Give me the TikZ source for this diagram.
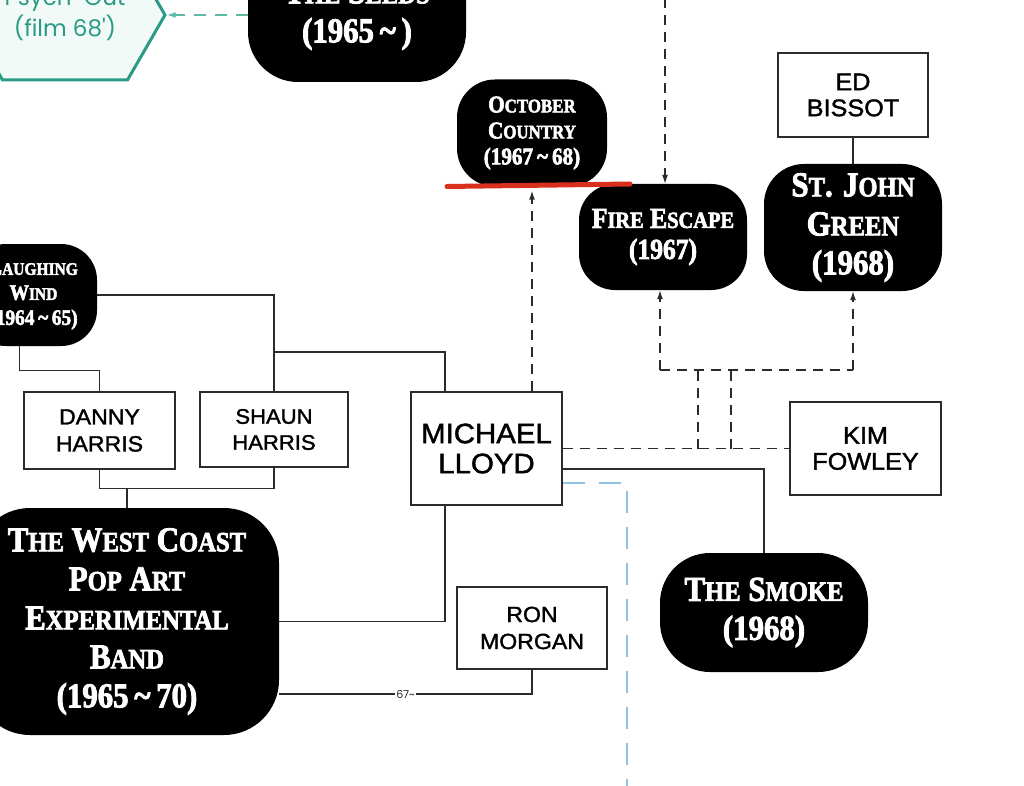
\documentclass[tikz,border=0pt]{standalone}
\usepackage{fontspec}
\usepackage{graphicx}
\usetikzlibrary{arrows.meta, shapes.symbols}
\newfontfamily\bandfont[FakeStretch=0.88, BoldFeatures={FakeBold=2.5}]{Liberation Serif}
\newfontfamily\boxfont[FakeStretch=1.05, FakeBold=1.5]{Liberation Sans}
\newfontfamily\hexfont{Poppins}
\definecolor{inkgray}{HTML}{2B2B2B}
\definecolor{hexteal}{HTML}{2A9A86}
\definecolor{hexfill}{HTML}{F2FAF8}
\definecolor{arrowteal}{HTML}{5FB8A6}
\definecolor{skyblue}{HTML}{8CC4E8}
\definecolor{brushred}{HTML}{D9301E}
\newcommand\smc[1]{\scalebox{0.8}{#1}}
\newcommand\tld{\,\char"007E\,}

\tikzset{
  band/.style={fill=black, text=white, align=center, inner sep=0pt, rounded corners=#1},
  bigband/.style={font=\bandfont\bfseries\fontsize{35}{39}\selectfont},
  midband/.style={font=\bandfont\bfseries\fontsize{29}{31}\selectfont},
  smallband/.style={font=\bandfont\bfseries\fontsize{24}{26}\selectfont},
  person/.style={draw=inkgray, line width=1.3pt, fill=white, align=center, inner sep=0pt,
    font=\boxfont\fontsize{22}{27}\selectfont},
  link/.style={draw=inkgray, line width=1.3pt},
  linkdash/.style={link, dash pattern=on 10pt off 7pt},
  arrowto/.style={-{Latex[length=9pt,width=6pt]}},
}

\begin{document}
\begin{tikzpicture}[x=1pt, y=-1pt]
\useasboundingbox (0,0) rectangle (1024,786);

% Film
\node[signal, signal to=east and west, signal pointer angle=120, draw=hexteal, fill=hexfill,
  line width=3pt, minimum width=200pt, minimum height=130pt, inner sep=0pt, align=center,
  text=hexteal, font=\hexfont\fontsize{23}{31}\selectfont] (psych) at (65,15) {Psych-Out\\(film 68')};

% Bands
\node[band=50pt, bigband, minimum width=218pt, minimum height=134pt] (seeds) at (357,15)
  {T\smc{HE} S\smc{EEDS}\\(1965\tld)};
\node[band=38pt, smallband, minimum width=150pt, minimum height=107pt] (oct) at (532,133)
  {O\smc{CTOBER}\\C\smc{OUNTRY}\\(1967\tld68)};
\node[band=36pt, midband, minimum width=168pt, minimum height=106pt] (fire) at (663,237)
  {F\smc{IRE} E\smc{SCAPE}\\(1967)};
\node[band=40pt, bigband, minimum width=178pt, minimum height=127pt] (stj) at (853,227.5)
  {S\smc{T}. J\smc{OHN}\\G\smc{REEN}\\(1968)};
\node[band=36pt, font=\bandfont\bfseries\fontsize{22}{25}\selectfont, minimum width=127pt, minimum height=102pt] (lw) at (33.5,295)
  {L\smc{AUGHING}\\W\smc{IND}\\(1964\tld65)};
\node[band=55pt, bigband, minimum width=304pt, minimum height=227pt] (wc) at (127,621.5)
  {T\smc{HE} W\smc{EST} C\smc{OAST}\\P\smc{OP} A\smc{RT}\\E\smc{XPERIMENTAL}\\B\smc{AND}\\(1965\tld70)};
\node[band=50pt, bigband, minimum width=208pt, minimum height=119pt] (smoke) at (764,612.5)
  {T\smc{HE} S\smc{MOKE}\\(1968)};

% People
\node[person, minimum width=150pt, minimum height=84pt, font=\boxfont\fontsize{24}{26}\selectfont] (ed) at (853,95) {ED\\BISSOT};
\node[person, minimum width=151pt, minimum height=77pt] (danny) at (99.5,430.5) {DANNY\\HARRIS};
\node[person, minimum width=148pt, minimum height=75pt, font=\boxfont\fontsize{21}{26}\selectfont] (shaun) at (274,429.5) {SHAUN\\HARRIS};
\node[person, minimum width=151pt, minimum height=113pt, font=\boxfont\fontsize{28}{30}\selectfont] (michael) at (486.5,448.5) {MICHAEL\\LLOYD};
\node[person, minimum width=150pt, minimum height=82pt] (ron) at (532,628) {RON\\MORGAN};
\node[person, minimum width=151pt, minimum height=93pt, font=\boxfont\fontsize{24}{26}\selectfont] (kim) at (865.5,448.5) {KIM\\FOWLEY};

% Red brush mark under October Country
\draw[brushred, line width=5pt, line cap=round] (447,186.5) -- (630,184);

% Points off the edge
\coordinate (topin) at (665,-2);
\coordinate (blueend) at (627,790);
\coordinate (kimup1) at (698,448.5);
\coordinate (kimup2) at (731,448.5);
\coordinate (lwsplit) at (274,352);

% Solid links
\draw[link] (lw.east) -| (shaun.north);
\draw[link] (lwsplit) -| ([xshift=-41.5pt]michael.north);
\draw[link] ([xshift=-14pt]lw.south) -- ++(0,24) -| (danny.north);
\draw[link] (danny.south) -- ++(0,19) -| (shaun.south);
\draw[link] (wc.north) -- (wc.north |- 0,488);
\draw[link] ([xshift=-41.5pt]michael.south) |- (wc.east);
\draw[link] (ron.south) |- node[pos=0.75, fill=white, inner sep=1.5pt, text=inkgray,
  font=\hexfont\fontsize{11}{11}\selectfont] {67\char"007E} ([yshift=-72.5pt]wc.east);
\draw[link] ([yshift=-20.5pt]michael.east) -| (smoke.north);
\draw[link] (ed.south) -- (stj.north);

% Dashed links
\draw[linkdash] (michael.east) -- (kim.west);
\draw[linkdash] (kimup1) -- (kimup1 |- 0,370);
\draw[linkdash] (kimup2) -- (kimup2 |- 0,370);
\draw[linkdash] ([xshift=-3pt]fire.south |- 0,370) -- (stj.south |- 0,370);
\draw[linkdash, arrowto] ([xshift=-3pt]fire.south |- 0,370) -- ([xshift=-3pt]fire.south);
\draw[linkdash, arrowto] (stj.south |- 0,370) -- (stj.south);
\draw[linkdash, arrowto] (topin) -- (topin |- fire.north);
\draw[linkdash, arrowto, shorten >=4pt] (oct.south |- michael.north) -- (oct.south);
\draw[arrowteal, line width=1.5pt, dash pattern=on 12pt off 9pt, arrowto] (seeds.west) -- (psych.east);
\draw[skyblue, line width=2pt, dash pattern=on 22pt off 14pt] ([yshift=-34.5pt]michael.east) -| (blueend);

\end{tikzpicture}
\end{document}
